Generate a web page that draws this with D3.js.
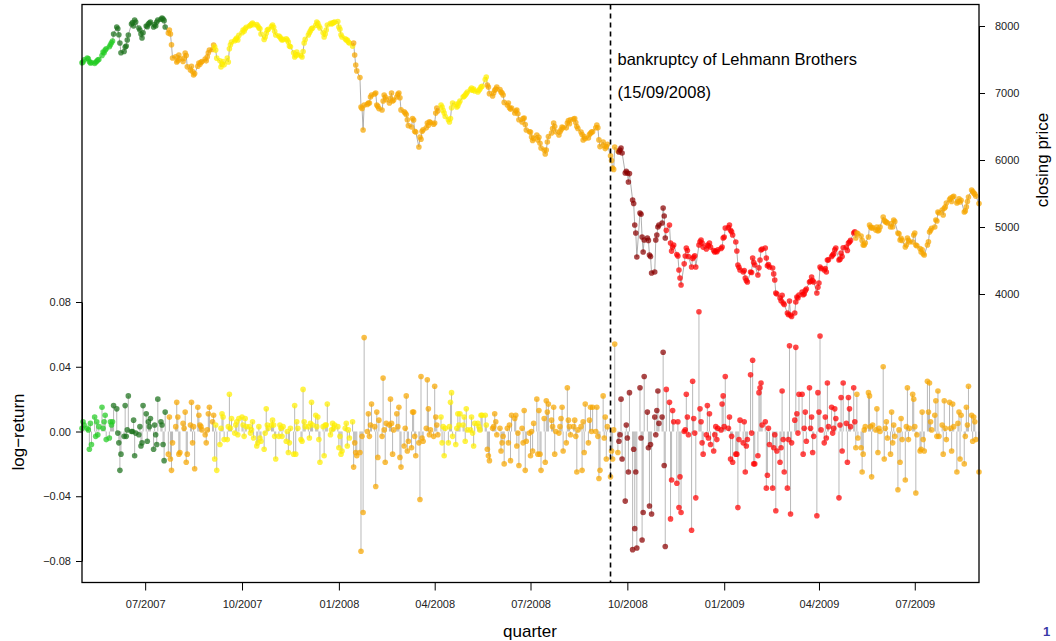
<!DOCTYPE html>
<html>
<head>
<meta charset="utf-8">
<script src="https://cdn.jsdelivr.net/npm/d3@7"></script>
<style>
  body { margin: 0; background: #fff; }
  svg { display: block; font-family: "Liberation Sans", Arial, sans-serif; }
  .axis text { font-size: 11px; fill: #222; }
  .axis line, .axis path { stroke: #000; }
</style>
</head>
<body>
<svg id="chart" width="1056" height="641"></svg>
<script>
// trading days, one row per week (Mon..Fri), first week starts on Wed 02/05/2007
var firstDay = "2007-05-02";
var lastDay = "2009-08-31";

var closing = [
  7450, 7462, 7495,
  7522, 7510, 7470, 7448, 7455,
  7440, 7460, 7475, 7492, 7500,
  7560, 7612, 7600, 7640, 7660,
  7690, 7720, 7750, 7776, 7880,
  7985, 7960, 7870, 7746, 7600,
  7620, 7686, 7700, 7790, 7866,
  8030, 8050, 8000, 8089, 8060,
  7970, 7940, 7880, 7820, 7900,
  8000, 7990, 8030, 8045, 8060,
  7985, 8020, 8000, 8060, 8089,
  8100, 8119, 8105, 8080, 7985,
  7895, 7940, 7880, 7720, 7522,
  7540, 7463, 7480, 7567, 7510,
  7470, 7520, 7597, 7560, 7390,
  7343, 7400, 7320, 7269, 7290,
  7400, 7448, 7430, 7460, 7470,
  7507, 7480, 7540, 7600, 7642,
  7650, 7716, 7690, 7640, 7520,
  7480, 7388, 7430, 7470, 7420,
  7522, 7463, 7660, 7720, 7761,
  7780, 7800, 7821, 7790, 7860,
  7900, 7940, 7920, 7960, 7980,
  8000, 8010, 8030, 8045, 8020,
  8020, 8000, 7975, 7960, 7880,
  7800, 7836, 7890, 7940, 7950,
  7990, 8015, 7980, 7920, 7866,
  7850, 7836, 7810, 7790, 7800,
  7810, 7791, 7760, 7700, 7690,
  7600, 7537, 7560, 7612, 7570,
  7560, 7537, 7620, 7746, 7800,
  7866, 7900, 7930, 7960, 7970,
  8010, 8060, 8040, 8000, 7970,
  7900, 7836, 7880, 7940, 8015,
  8040, 8030, 8045, 8050, 8060,
  8067, 7985, 7950, 7870, 7836,
  7810, 7790, 7791, 7760, 7746,
  7700, 7746, 7567, 7418, 7330,
  7230, 6791, 6770, 6448, 6821,
  6830, 6850, 6851, 6940, 6970,
  6985, 7000, 6821, 6800, 6767,
  6746, 6880, 6970, 6940, 6900,
  6851, 6920, 7000, 6880, 6895,
  6940, 6980, 7000, 6930, 6748,
  6720, 6701, 6680, 6600, 6513,
  6493, 6620, 6597, 6430, 6418,
  6194, 6343, 6310, 6430, 6450,
  6480, 6552, 6520, 6570, 6560,
  6534, 6552, 6700, 6776, 6730,
  6821, 6790, 6740, 6700, 6650,
  6600, 6567, 6620, 6780, 6851,
  6830, 6791, 6810, 6850, 6880,
  6940, 6950, 6970, 6990, 7015,
  7050, 7075, 7040, 7060, 7030,
  7015, 7040, 7060, 7090, 7100,
  7200, 7239, 7120, 7090, 6990,
  6955, 7000, 7040, 7060, 7090,
  7050, 7015, 7000, 6970, 6860,
  6821, 6850, 6780, 6760, 6776,
  6701, 6730, 6746, 6690, 6600,
  6567, 6620, 6627, 6530, 6448,
  6420, 6418, 6343, 6290, 6320,
  6373, 6300, 6340, 6250, 6179,
  6150, 6090, 6150, 6269, 6350,
  6403, 6470, 6552, 6500, 6420,
  6373, 6420, 6450, 6493, 6480,
  6480, 6552, 6590, 6540, 6600,
  6612, 6620, 6560, 6500, 6470,
  6418, 6380, 6299, 6350, 6320,
  6328, 6380, 6400, 6418, 6422,
  6480, 6522, 6480, 6300, 6200,
  6269, 6210, 6170, 6200, 6235,
  6064, 5992, 5881, 5860, 6194,
  6134, 6119, 6150, 6179, 6105,
  5807, 5831, 5806, 5672, 5797,
  5403, 5350, 5030, 4910, 4552,
  5209, 5190, 4851, 4627, 4806,
  4836, 4800, 4582, 4560, 4313,
  4328, 4806, 4880, 5000, 5030,
  5060, 5284, 5164, 4836, 4950,
  5030, 4761, 4640, 4701, 4730,
  4590, 4567, 4358, 4239, 4134,
  4450, 4567, 4687, 4650, 4560,
  4403, 4530, 4552, 4570, 4403,
  4731, 4780, 4806, 4760, 4700,
  4672, 4731, 4720, 4761, 4700,
  4650, 4627, 4640, 4630, 4660,
  4680, 4701, 4836, 4850, 4985,
  4990, 5030, 4950, 4930, 4880,
  4776, 4642, 4433, 4400, 4358,
  4328, 4350, 4239, 4200, 4179,
  4328, 4320, 4537, 4470, 4433,
  4284, 4390, 4507, 4657, 4670,
  4687, 4537, 4420, 4440, 4403,
  4388, 4300, 4209, 4015, 4000,
  3940, 3900, 3980, 3866, 3843,
  3716, 3690, 3896, 3687, 3666,
  3716, 3881, 3955, 3940, 3985,
  4030, 3990, 4000, 4050, 4075,
  4179, 4190, 4254, 4200, 4179,
  4015, 4100, 4164, 4403, 4380,
  4358, 4380, 4328, 4507, 4510,
  4560, 4582, 4600, 4660, 4687,
  4507, 4520, 4610, 4560, 4690,
  4701, 4650, 4760, 4776, 4800,
  4910, 4930, 4836, 4910, 4900,
  4866, 4800, 4731, 4731, 4760,
  4851, 5030, 5000, 4985, 4990,
  4955, 5000, 4940, 4955, 5000,
  5149, 5100, 5080, 5075, 5060,
  5000, 5050, 5000, 5105, 5080,
  4910, 4900, 4806, 4830, 4800,
  4701, 4730, 4836, 4800, 4776,
  4776, 4880, 4910, 4731, 4720,
  4680, 4627, 4660, 4600, 4582,
  4731, 4780, 4925, 4950, 4980,
  5000, 5105, 5090, 5224, 5210,
  5254, 5179, 5280, 5300, 5358,
  5410, 5433, 5380, 5448, 5460,
  5358, 5380, 5420, 5373, 5400,
  5224, 5240, 5300, 5380, 5448,
  5552, 5530, 5507, 5490, 5460,
  5350
];

// daily log-returns in percent, same layout as closing
var logReturnPct = [
  0.2, 0.6, 0.4,
  0.2, 0.1, -1.1, 0.5, -0.8,
  0.9, -0.3, 0.6, -0.2, 0.3,
  1.5, 0.2, 0.6, 1.0, -0.5,
  -0.4, 0.6, 0.4, 0.6, 1.6,
  1.4, -0.1, -0.7, -2.4, -1.4,
  -0.3, 1.6, -0.3, 0.1, 2.2,
  0.0, 0.0, 0.7, -1.5, -0.1,
  -0.2, 0.3, -0.9, -0.7, 1.6,
  1.1, -0.6, 0.6, 0.3, 0.8,
  -1.1, 0.4, -0.2, -0.8, 2.0,
  0.6, 0.4, -0.8, -1.8, 1.2,
  -1.4, 0.9, -1.7, -2.4, -0.7,
  0.3, 1.8, 0.9, -1.4, -1.3,
  0.5, 0.2, 1.2, -1.9, -1.4,
  0.4, 1.8, -0.7, 0.3, -2.3,
  1.5, 1.0, 0.4, 0.3, 0.1,
  -0.2, -0.7, 0.1, 1.1, 1.5,
  0.6, 1.0, -1.7, 0.4, -2.4,
  -0.8, 0.2, 1.1, 0.9, -0.5,
  -0.5, 0.3, 2.3, 0.2, 0.8,
  -0.1, 0.4, 0.6, -0.2, 0.8,
  0.9, 0.4, -0.3, 0.8, 0.3,
  0.3, -0.1, 0.1, 0.6, -0.4,
  -0.9, -0.7, 0.3, -0.4, -0.6,
  -1.1, -0.1, 1.4, 0.4, 0.2,
  0.4, 0.7, 0.4, -0.3, -1.7,
  -0.3, 0.4, 0.2, -0.3, 0.3,
  -0.6, 0.0, -1.3, -0.7, 0.2,
  -1.4, 1.6, -1.4, 0.6, 0.2,
  -0.5, -0.6, 2.6, 0.6, 0.3,
  0.3, -0.4, 0.5, 1.8, 0.4,
  1.0, 0.3, 0.9, -0.5, -1.9,
  0.3, -1.5, 0.4, 0.4, 1.7,
  -0.2, 0.1, 0.5, 0.2, 0.4,
  0.3, -1.0, -0.3, -1.4, -1.2,
  0.2, 0.5, -0.9, 0.1, -0.4,
  0.6, -2.2, -0.7, -1.3, -1.5,
  -1.3, -7.4, -0.3, -5.0, 5.8,
  0.0, 1.1, -0.3, 0.4, 1.7,
  0.3, -3.4, 1.2, -1.6, 0.7,
  -0.3, 3.3, 0.1, -1.9, 0.5,
  0.4, 2.0, 0.5, -1.4, 0.1,
  1.1, 0.3, 1.5, -1.6, -2.2,
  -0.9, 0.2, 2.2, -1.2, -0.6,
  -1.0, 1.2, 1.2, -0.3, -1.5,
  -0.7, -4.2, 3.4, -0.4, -0.6,
  0.2, 3.2, 1.4, -0.2, 0.1,
  -0.3, 2.8, 0.9, 0.4, -0.2,
  0.9, -0.7, 0.3, -1.5, 0.2,
  -0.7, 0.3, 1.8, 2.4, -0.3,
  -0.8, 0.2, 1.1, 0.4, 1.1,
  0.4, 0.9, -0.6, 1.4, 0.1,
  0.1, 0.9, -0.1, -0.9, 0.5,
  0.5, 0.3, 0.1, 1.0, 1.0,
  1.0, 0.4, -1.1, -1.5, -1.8,
  0.2, 0.3, 1.1, 0.6, -0.2,
  0.2, -1.2, -0.7, -0.3, -2.0,
  0.2, -0.7, 0.4, -1.8, 1.0,
  0.8, 1.0, -0.9, -0.1, -2.1,
  0.2, -0.7, 1.3, -2.4, -0.6,
  -0.1, -1.5, 0.0, -1.2, 0.5,
  2.0, -1.4, 1.3, -1.4, -2.4,
  0.8, -1.9, 1.9, 1.2, 1.7,
  0.7, 0.3, 1.5, -1.4, 0.0,
  -0.1, 0.3, 0.8, 1.5, -1.2,
  -0.7, 2.7, 0.7, 0.3, -0.2,
  0.3, 0.7, -0.3, -2.5, 0.1,
  0.3, -2.4, 0.6, -1.3, 1.7,
  -0.7, 0.7, 1.5, 0.0, 1.5,
  0.0, 1.5, -0.3, -2.9, -2.4,
  2.2, -0.4, 0.9, -1.7, 0.3,
  -2.8, -1.2, -1.7, 0.1, 5.4,
  -1.3, -0.6, -0.2, 2.0, -1.7,
  -4.3, 0.4, -0.4, -2.5, 2.4,
  -7.3, -1.1, -6.0, -2.5, -7.2,
  2.7, -0.4, -6.7, -5.0, 3.4,
  1.2, -1.0, -4.6, -0.8, -5.1,
  0.9, -0.2, 1.3, 2.5, 0.5,
  0.9, 4.9, -2.1, -7.1, 2.6,
  1.8, -5.4, -3.0, 1.3, 0.6,
  -3.2, 0.6, -4.7, -2.8, -5.0,
  0.0, 0.1, 2.3, 0.9, -0.2,
  -6.1, 3.1, 0.8, -0.1, -4.1,
  7.4, 1.4, 0.6, -0.7, -1.4,
  -0.2, 1.6, -0.4, 1.1, -0.8,
  -1.2, -0.2, 0.3, -0.5, 0.2,
  0.1, 1.7, 2.2, 0.3, 3.4,
  0.2, 0.9, -1.7, -0.3, -1.9,
  -1.4, -1.4, -4.7, -0.5, 0.7,
  -0.7, 0.6, -2.5, -0.9, -0.5,
  3.5, -0.1, 4.4, -2.0, -2.0,
  -1.5, 2.4, 2.7, 3.0, 0.4,
  0.6, -3.5, -2.7, 0.2, -0.8,
  -3.5, -1.0, -0.2, -4.9, -1.2,
  -1.9, -1.0, 2.5, -0.5, -2.5,
  -3.5, -0.5, 5.3, -5.1, -0.7,
  0.7, 5.2, 1.1, -0.1, 2.3,
  2.3, -1.4, 0.2, 1.2, -0.6,
  2.7, 0.2, 0.9, -1.3, -0.3,
  -5.2, 2.4, 1.2, 5.9, 0.1,
  -0.7, 0.9, -0.4, 3.0, 0.3,
  1.5, -0.1, 0.2, 1.4, 0.8,
  -4.1, 0.4, 2.1, -1.2, 3.0,
  0.5, -1.9, 2.1, 1.4, 0.3,
  2.7, 0.6, -1.0, 2.3, -0.4,
  -1.0, -2.5, -1.4, 0.1, 0.3,
  2.4, 2.2, 0.3, -2.8, 0.4,
  0.1, 1.4, -1.3, 0.2, 0.0,
  4.0, -1.7, 0.2, 0.6, -0.4,
  -1.4, 1.2, -0.7, 0.4, -0.3,
  -3.6, 0.1, -1.9, 0.8, -0.5,
  -3.0, 0.3, 2.7, -0.5, 0.2,
  2.3, 2.0, 0.3, -3.8, -0.2,
  -1.2, -1.1, 1.2, -0.5, -1.2,
  3.1, 1.2, 3.0, 0.6, 0.1,
  1.0, 1.9, -0.3, 2.5, -0.3,
  0.4, -1.4, 1.9, 0.2, -0.5,
  1.8, 0.2, -1.2, 1.7, 0.3,
  -2.5, 0.5, 1.2, -1.7, 1.0,
  -2.0, -0.3, 1.5, 0.4, 2.8,
  1.0, -0.6, 0.9, 0.6, -0.5,
  -2.5
];

// market regimes: first day of each regime and its colour
var regimeStart = ["2007-05-02", "2007-06-01", "2007-07-23", "2007-09-05", "2008-01-15",
                   "2008-04-07", "2008-05-21", "2008-09-23", "2008-11-07", "2009-05-06"];
var regimeColour = ["#22cc22", "#1a701a", "#f7a600", "#ffee00", "#f7a600",
                    "#ffee00", "#f7a600", "#8b0000", "#ff0000", "#f7a600"];

var quarterTicks = ["2007-07-01", "2007-10-01", "2008-01-01", "2008-04-01", "2008-07-01",
                    "2008-10-01", "2009-01-01", "2009-04-01", "2009-07-01"];
var priceTicks = [4000, 5000, 6000, 7000, 8000];
var returnTicks = [-0.08, -0.04, 0, 0.04, 0.08];

var lehmanDay = "2008-09-15";


var parse = d3.utcParse("%Y-%m-%d");

function trading_days() {
    return d3.utcDay.range(parse(firstDay), d3.utcDay.offset(parse(lastDay), 1))
        .filter(function(d) { return d.getUTCDay() !== 0 && d.getUTCDay() !== 6; });
}

function build_rows() {
    var days = trading_days();
    var starts = regimeStart.map(parse);
    var n = Math.min(days.length, closing.length, logReturnPct.length);
    var rows = [];
    for (var i = 0; i < n; i++) {
        var k = d3.bisectRight(starts, days[i]) - 1;
        rows.push({
            date: days[i],
            close: closing[i],
            ret: logReturnPct[i] / 100,
            colour: regimeColour[Math.max(k, 0)]
        });
    }
    return rows;
}


function draw() {
    var rows = build_rows();
    var svg = d3.select("#chart");

    var box = {left: 82, right: 979, top: 4.5, bottom: 582.5};

    var x = d3.scaleUtc()
        .domain([parse(firstDay), parse(lastDay)])
        .range([box.left, box.right]);
    var yPrice = d3.scaleLinear().domain([4000, 8000]).range([294, 26]);
    var yRet = d3.scaleLinear().domain([-0.08, 0.08]).range([561, 302]);

    var plot = svg.append("g");

    // return stems
    plot.append("g")
        .selectAll("line")
        .data(rows)
        .enter().append("line")
        .attr("x1", function(d) { return x(d.date); })
        .attr("x2", function(d) { return x(d.date); })
        .attr("y1", yRet(0))
        .attr("y2", function(d) { return yRet(d.ret); })
        .attr("stroke", "#a8a8a8")
        .attr("stroke-width", 1)
        .attr("stroke-opacity", 0.8);

    // closing price line
    plot.append("path")
        .datum(rows)
        .attr("fill", "none")
        .attr("stroke", "#9a9a9a")
        .attr("stroke-width", 0.8)
        .attr("d", d3.line()
            .x(function(d) { return x(d.date); })
            .y(function(d) { return yPrice(d.close); }));

    plot.append("g")
        .selectAll("circle")
        .data(rows)
        .enter().append("circle")
        .attr("cx", function(d) { return x(d.date); })
        .attr("cy", function(d) { return yPrice(d.close); })
        .attr("r", 2.8)
        .attr("fill", function(d) { return d.colour; })
        .attr("fill-opacity", 0.72);

    plot.append("g")
        .selectAll("circle")
        .data(rows)
        .enter().append("circle")
        .attr("cx", function(d) { return x(d.date); })
        .attr("cy", function(d) { return yRet(d.ret); })
        .attr("r", 2.8)
        .attr("fill", function(d) { return d.colour; })
        .attr("fill-opacity", 0.72);

    // Lehman line and note
    var xl = x(parse(lehmanDay));
    svg.append("line")
        .attr("x1", xl).attr("x2", xl)
        .attr("y1", box.top).attr("y2", box.bottom)
        .attr("stroke", "#000")
        .attr("stroke-width", 1.6)
        .attr("stroke-dasharray", "5,4");

    svg.append("text")
        .attr("x", xl + 7).attr("y", 65)
        .style("font-size", "16.5px")
        .text("bankruptcy of Lehmann Brothers");
    svg.append("text")
        .attr("x", xl + 7).attr("y", 98)
        .style("font-size", "16.5px")
        .text("(15/09/2008)");

    // frame
    svg.append("rect")
        .attr("x", box.left).attr("y", box.top)
        .attr("width", box.right - box.left)
        .attr("height", box.bottom - box.top)
        .attr("fill", "none")
        .attr("stroke", "#000")
        .attr("stroke-width", 1.3);

    svg.append("g")
        .attr("class", "axis")
        .attr("transform", "translate(0," + box.bottom + ")")
        .call(d3.axisBottom(x)
            .tickValues(quarterTicks.map(parse))
            .tickFormat(d3.utcFormat("%m/%Y"))
            .tickSize(8).tickSizeOuter(0).tickPadding(10))
        .select(".domain").remove();

    svg.append("g")
        .attr("class", "axis")
        .attr("transform", "translate(" + box.left + ",0)")
        .call(d3.axisLeft(yRet)
            .tickValues(returnTicks)
            .tickFormat(d3.format(".2f"))
            .tickSize(6).tickSizeOuter(0).tickPadding(5));

    svg.append("g")
        .attr("class", "axis")
        .attr("transform", "translate(" + box.right + ",0)")
        .call(d3.axisRight(yPrice)
            .tickValues(priceTicks)
            .tickFormat(d3.format("d"))
            .tickSize(6).tickSizeOuter(0).tickPadding(10));

    // axis titles
    svg.append("text")
        .attr("transform", "translate(24,432) rotate(-90)")
        .attr("text-anchor", "middle")
        .style("font-size", "17px")
        .text("log\u2212return");
    svg.append("text")
        .attr("transform", "translate(1048,160) rotate(-90)")
        .attr("text-anchor", "middle")
        .style("font-size", "17px")
        .text("closing price");
    svg.append("text")
        .attr("x", 530).attr("y", 637)
        .attr("text-anchor", "middle")
        .style("font-size", "17px")
        .text("quarter");

    // page number peeking in at the corner
    svg.append("text")
        .attr("x", 1043).attr("y", 636)
        .style("font-size", "13px")
        .style("font-weight", "bold")
        .attr("fill", "#3a3aa8")
        .text("1");
}

draw();
</script>
</body>
</html>
